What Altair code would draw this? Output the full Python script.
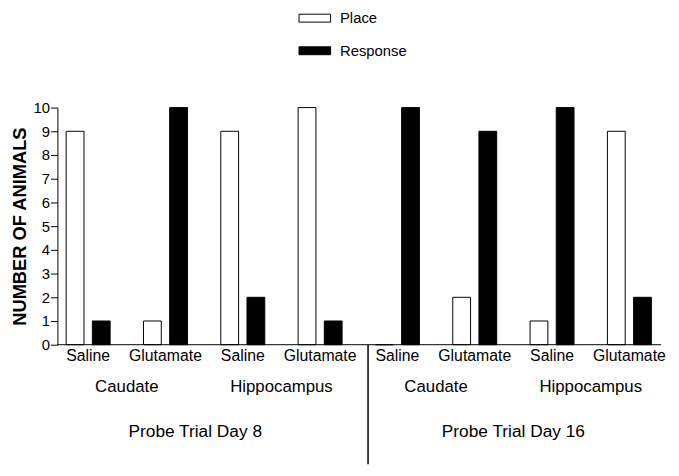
import altair as alt
import pandas as pd

days = ["Probe Trial Day 8"] * 4 + ["Probe Trial Day 16"] * 4
regions = ["Caudate", "Caudate", "Hippocampus", "Hippocampus"] * 2
treatments = ["Saline", "Glutamate"] * 4
place = [9, 1, 9, 10, 0, 2, 1, 9]
response = [1, 10, 2, 1, 10, 9, 10, 2]
types = ["Place", "Response"]
y_ticks = list(range(0, 11))

keys = [f"{d}|{r}|{t}" for d, r, t in zip(days, regions, treatments)]

rows = []
for k, p, r in zip(keys, place, response):
    rows.append({"group": k, "Type": "Place", "count": p})
    rows.append({"group": k, "Type": "Response", "count": r})
bars_df = pd.DataFrame(rows)

region_df = pd.DataFrame({"group": [keys[0], keys[2], keys[4], keys[6]],
                          "label": [regions[0], regions[2], regions[4], regions[6]]})
day8_df = pd.DataFrame({"group": [keys[1]], "label": [days[0]]})
day16_df = pd.DataFrame({"group": [keys[5]], "label": [days[4]]})
sep_df = pd.DataFrame({"group": [keys[4]]})

xscale = alt.Scale(domain=keys, paddingInner=0, paddingOuter=0)

bars = alt.Chart(bars_df).mark_bar(stroke="black", strokeWidth=1).encode(
    x=alt.X("group:N", scale=xscale,
            axis=alt.Axis(title=None, domain=False, ticks=False,
                          labelExpr="split(datum.value, '|')[2]",
                          labelFontSize=16, labelPadding=3, labelColor="black",
                          labelAngle=0)),
    xOffset=alt.XOffset("Type:N", scale=alt.Scale(domain=types, paddingInner=0.32,
                                                  paddingOuter=0.637)),
    y=alt.Y("count:Q", scale=alt.Scale(domain=[0, 10]),
            axis=alt.Axis(title="NUMBER OF ANIMALS", values=y_ticks, grid=False,
                          offset=-8, tickSize=7, labelFontSize=15, labelPadding=1,
                          labelColor="black", domainColor="black", tickColor="black",
                          titleFontSize=18.5, titleFontWeight="bold", titleColor="black",
                          titlePadding=4)),
    fill=alt.Fill("Type:N", scale=alt.Scale(domain=types, range=["white", "black"]),
                  legend=alt.Legend(title=None, orient="none", legendX=260, legendY=-99,
                                    symbolType="M-2,-0.5L2,-0.5L2,0.5L-2,0.5Z",
                                    symbolSize=256, symbolStrokeColor="black",
                                    symbolStrokeWidth=1, labelFontSize=15,
                                    labelColor="black", labelOffset=17, rowPadding=16,
                                    padding=0)),
)

xaxis_line = alt.Chart(sep_df).mark_rule(color="black", strokeWidth=1).encode(
    x=alt.value(8), x2=alt.value(619), y=alt.value(240)
)

sep = alt.Chart(sep_df).mark_rule(color="black", strokeWidth=1.5).encode(
    x=alt.X("group:N", scale=xscale, bandPosition=0.12),
    y=alt.value(240), y2=alt.value(361)
)

region_text = alt.Chart(region_df).mark_text(fontSize=17, color="black", baseline="middle").encode(
    x=alt.X("group:N", scale=xscale, bandPosition=1),
    y=alt.value(283), text="label:N"
)
day8_text = alt.Chart(day8_df).mark_text(fontSize=17.5, color="black", baseline="middle", dx=-9).encode(
    x=alt.X("group:N", scale=xscale, bandPosition=1),
    y=alt.value(328), text="label:N"
)
day16_text = alt.Chart(day16_df).mark_text(fontSize=17.5, color="black", baseline="middle").encode(
    x=alt.X("group:N", scale=xscale, bandPosition=1),
    y=alt.value(328), text="label:N"
)

chart = alt.layer(bars, xaxis_line, sep, region_text, day8_text, day16_text).properties(
    width=626, height=240,
    autosize=alt.AutoSizeParams(type="none"),
    padding={"left": 42, "top": 98, "right": 3, "bottom": 122},
).configure(font="Liberation Sans").configure_view(stroke=None)

chart.save("out.html", embed_options={"renderer": "svg", "actions": False})
